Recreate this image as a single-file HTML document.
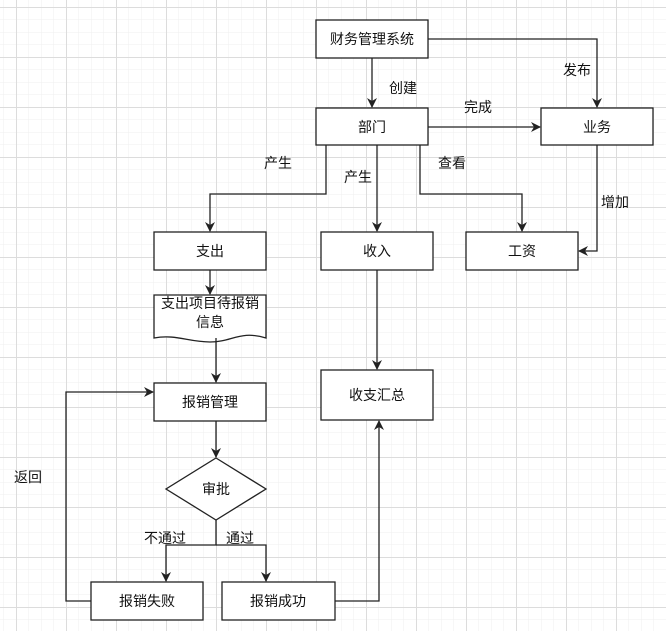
<!DOCTYPE html>
<html><head><meta charset="utf-8"><style>
html,body{margin:0;padding:0;background:#fff;}
svg{display:block;font-family:"Liberation Sans","Noto Sans CJK SC",sans-serif;}
</style></head><body>
<svg width="666" height="631" viewBox="0 0 666 631" xmlns="http://www.w3.org/2000/svg">
<defs>
<pattern id="minor" x="16" y="7" width="12.5" height="12.5" patternUnits="userSpaceOnUse">
<path d="M0 0H12.5M0 0V12.5" stroke="#efefef" stroke-width="1" fill="none"/>
</pattern>
<pattern id="major" x="16" y="7" width="50" height="50" patternUnits="userSpaceOnUse">
<path d="M0 0.5H50M0.5 0V50" stroke="#dcdcdc" stroke-width="1" fill="none"/>
</pattern>
<marker id="a" markerWidth="10" markerHeight="10" refX="9" refY="5" orient="auto" markerUnits="userSpaceOnUse">
<path d="M0 0L10 5L0 10L3 5Z" fill="#222"/>
</marker>
</defs>
<rect width="666" height="631" fill="#fff"/>
<rect width="666" height="631" fill="url(#minor)"/>
<rect width="666" height="631" fill="url(#major)"/>

<g fill="#fff" stroke="#222" stroke-width="1.3">
<rect x="316" y="20" width="112" height="38"/>
<rect x="316" y="108" width="112" height="37"/>
<rect x="541" y="108" width="112" height="37"/>
<rect x="154" y="232" width="112" height="38"/>
<rect x="321" y="232" width="112" height="38"/>
<rect x="466" y="232" width="112" height="38"/>
<path d="M154 295H266V338C240 330 232 342 210 342C188 342 176 334 154 338Z"/>
<rect x="154" y="383" width="112" height="38"/>
<rect x="321" y="370" width="112" height="50"/>
<path d="M216 458L266 489L216 520L166 489Z"/>
<rect x="91" y="582" width="112" height="38"/>
<rect x="222" y="582" width="113" height="38"/>
</g>

<g fill="none" stroke="#222" stroke-width="1.3" marker-end="url(#a)">
<path d="M372 58V107"/>
<path d="M428 39H597V107"/>
<path d="M428 127H540"/>
<path d="M326 145V194H210V231"/>
<path d="M377 145V231"/>
<path d="M420 145V194H522V231"/>
<path d="M597 145V251H579"/>
<path d="M210 270V294"/>
<path d="M216 338V382"/>
<path d="M377 270V369"/>
<path d="M216 421V457"/>
<path d="M216 520V545H166V581"/>
<path d="M216 545H266V581"/>
<path d="M91 601H66V392H153"/>
<path d="M335 601H379V421"/>
</g>

<g font-size="14" fill="#111" text-anchor="middle">
<text x="372" y="44">财务管理系统</text>
<text x="372" y="132">部门</text>
<text x="597" y="132">业务</text>
<text x="210" y="256">支出</text>
<text x="377" y="256">收入</text>
<text x="522" y="256">工资</text>
<text x="210" y="308">支出项目待报销</text>
<text x="210" y="327">信息</text>
<text x="210" y="407">报销管理</text>
<text x="377" y="400">收支汇总</text>
<text x="216" y="494">审批</text>
<text x="147" y="606">报销失败</text>
<text x="278" y="606">报销成功</text>
<text x="403" y="93">创建</text>
<text x="577" y="75">发布</text>
<text x="478" y="112">完成</text>
<text x="278" y="168">产生</text>
<text x="358" y="182">产生</text>
<text x="452" y="168">查看</text>
<text x="615" y="207">增加</text>
<text x="165" y="543">不通过</text>
<text x="240" y="543">通过</text>
<text x="28" y="482">返回</text>
</g>
</svg>
</body></html>
